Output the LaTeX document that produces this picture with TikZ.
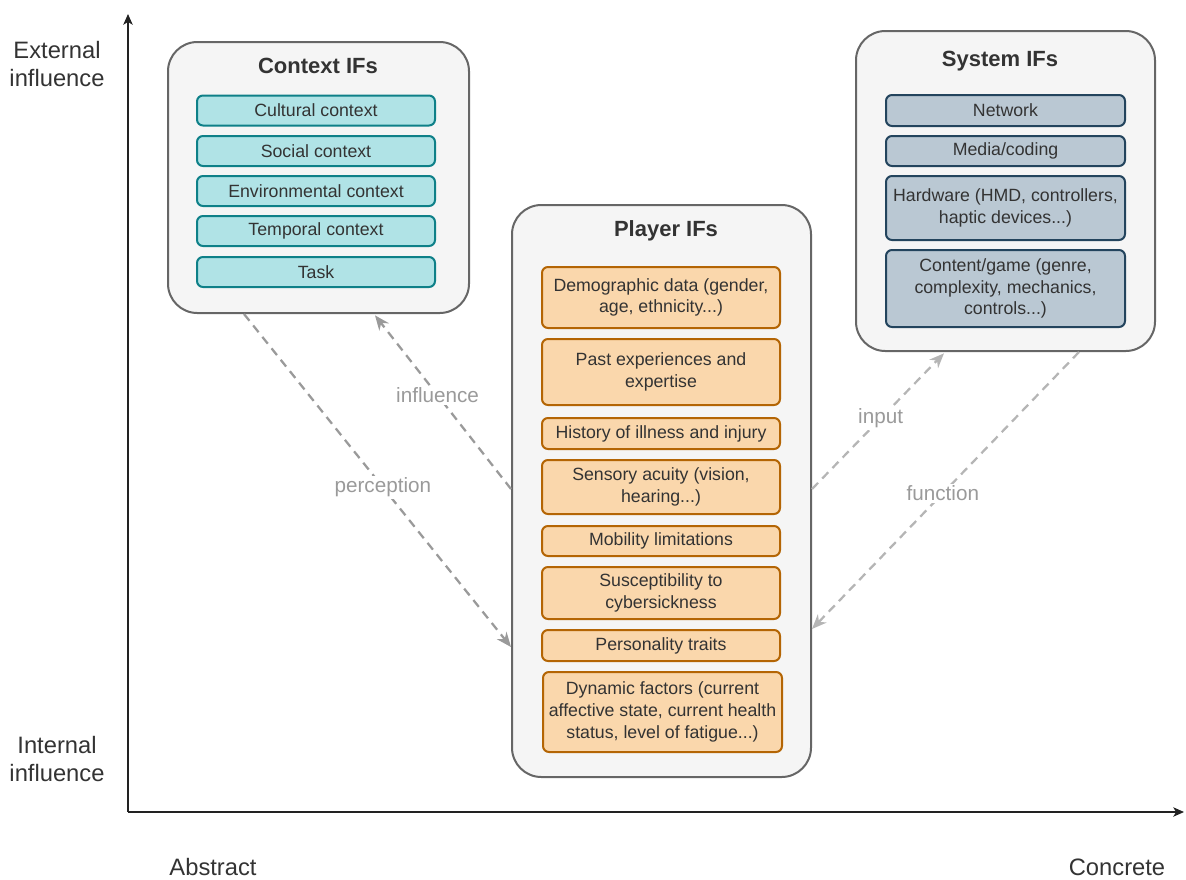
\documentclass[tikz,border=0pt]{standalone}
\usepackage{fontspec}
\setmainfont{Liberation Sans}
\usetikzlibrary{arrows.meta}
\definecolor{contfill}{HTML}{F5F5F5}
\definecolor{contdraw}{HTML}{666666}
\definecolor{txt}{HTML}{333333}
\definecolor{tealfill}{HTML}{B0E3E6}
\definecolor{tealdraw}{HTML}{0E8088}
\definecolor{orfill}{HTML}{FAD7AC}
\definecolor{ordraw}{HTML}{B46504}
\definecolor{blfill}{HTML}{BAC8D3}
\definecolor{bldraw}{HTML}{23445D}
\definecolor{edgegray}{HTML}{9A9A9A}
\definecolor{edgelight}{HTML}{B5B5B5}
\definecolor{axiscol}{HTML}{222222}
\begin{document}
\begin{tikzpicture}[x=0.75pt,y=-0.75pt,
  wh/.style 2 args={minimum width=#1*0.75pt,minimum height=#2*0.75pt},
  container/.style={draw=contdraw,fill=contfill,line width=1.5pt,rounded corners=22pt,inner sep=0pt},
  ttl/.style={font=\fontsize{16.5}{19}\selectfont\bfseries,text=txt,inner sep=0pt},
  item/.style={line width=1.5pt,rounded corners=4.5pt,inner sep=0pt,align=center,
    font=\fontsize{13.3}{16.3}\selectfont,text=txt},
  ctxitem/.style={item,draw=tealdraw,fill=tealfill},
  plyitem/.style={item,draw=ordraw,fill=orfill},
  sysitem/.style={item,draw=bldraw,fill=blfill},
  rel/.style={draw=edgegray,line width=1.7pt,dash pattern=on 6.5pt off 4.5pt,
    -{Stealth[length=11pt,width=9pt,inset=3.5pt]}},
  rellight/.style={rel,draw=edgelight},
  rellabel/.style={fill=white,inner sep=1.5pt,text=edgegray,font=\fontsize{15.5}{18}\selectfont},
  axislabel/.style={align=center,text=txt,font=\fontsize{17.8}{21.7}\selectfont},
  axis/.style={draw=axiscol,line width=1.1pt,-{Stealth[length=8pt,width=7pt,inset=2pt]}}
]
\useasboundingbox (0,0) rectangle (1186,879);

% axes
\coordinate (O) at (128,812);
\coordinate (ytop) at (128,14);
\coordinate (xend) at (1184,812);
\draw[axis] (O) -- (ytop);
\draw[axis] (O) -- (xend);
\node[axislabel] (ext) at (57,64) {External\\influence};
\node[axislabel] (int) at (57,759) {Internal\\influence};
\node[axislabel] (abs) at (213,867) {Abstract};
\node[axislabel] (con) at (1117,867) {Concrete};

% Context IFs
\node[container,wh={301}{271}] (ctx) at (318.5,177.5) {};
\node[ttl] (ctxt) at (318,66) {Context IFs};
\node[ctxitem,wh={238}{30}] (c1) at (316,110.5) {Cultural context};
\node[ctxitem,wh={238}{30}] (c2) at (316,151) {Social context};
\node[ctxitem,wh={238}{30}] (c3) at (316,191) {Environmental context};
\node[ctxitem,wh={238}{30}] (c4) at (316,231) {Temporal context};
\node[ctxitem,wh={238}{30}] (c5) at (316,272) {Task};

% Player IFs
\node[container,wh={299}{572}] (ply) at (661.5,491) {};
\node[ttl] (plyt) at (666,231) {Player IFs};
\node[plyitem,wh={238}{61}] (p1) at (661,297.5) {Demographic data (gender,\\age, ethnicity...)};
\node[plyitem,wh={238}{66}] (p2) at (661,372) {Past experiences and\\expertise};
\node[plyitem,wh={238}{31}] (p3) at (661,433.5) {History of illness and injury};
\node[plyitem,wh={238}{54}] (p4) at (661,487) {Sensory acuity (vision,\\hearing...)};
\node[plyitem,wh={238}{30}] (p5) at (661,541) {Mobility limitations};
\node[plyitem,wh={238}{52}] (p6) at (661,593) {Susceptibility to\\cybersickness};
\node[plyitem,wh={238}{31}] (p7) at (661,645.5) {Personality traits};
\node[plyitem,wh={239}{80}] (p8) at (662.5,712) {Dynamic factors (current\\affective state, current health\\status, level of fatigue...)};

% System IFs
\node[container,wh={299}{320}] (sys) at (1005.5,191) {};
\node[ttl] (syst) at (1000,61) {System IFs};
\node[sysitem,wh={239}{31}] (s1) at (1005.5,110.5) {Network};
\node[sysitem,wh={239}{30}] (s2) at (1005.5,151) {Media/coding};
\node[sysitem,wh={239}{64}] (s3) at (1005.5,208) {Hardware (HMD, controllers,\\haptic devices...)};
\node[sysitem,wh={239}{77}] (s4) at (1005.5,288.5) {Content/game (genre,\\complexity, mechanics,\\controls...)};

% relations
\draw[rel] ([xshift=57.75pt]ctx.south west) -- node[rellabel,pos=0.52] {perception} ([yshift=-332.25pt]ply.north west);
\draw[rel] ([yshift=-213.75pt]ply.north west) -- node[rellabel,pos=0.54] {influence} ([xshift=156pt,yshift=-1pt]ctx.south west);
\draw[rellight] ([yshift=-213.75pt]ply.north east) -- node[rellabel,pos=0.52] {input} ([xshift=66.75pt,yshift=-1pt]sys.south west);
\draw[rellight] ([xshift=168pt]sys.south west) -- node[rellabel,pos=0.51] {function} ([yshift=-318.75pt]ply.north east);
\end{tikzpicture}
\end{document}
